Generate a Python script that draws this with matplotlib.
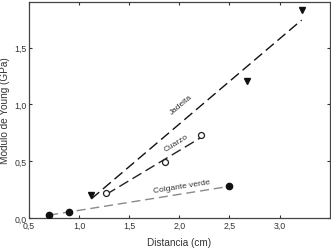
import numpy as np
import matplotlib
matplotlib.use("Agg")
import matplotlib.pyplot as plt

plt.rcParams["font.family"] = ["Liberation Sans", "DejaVu Sans"]

# data
jadeita_x = [1.12, 2.67, 3.22]
jadeita_y = [0.20, 1.21, 1.83]
cuarzo_x = [1.27, 1.86, 2.22]
cuarzo_y = [0.22, 0.49, 0.73]
colgante_x = [0.70, 0.90, 2.50]
colgante_y = [0.03, 0.05, 0.28]

x_ticks = [0.5, 1.0, 1.5, 2.0, 2.5, 3.0]
y_ticks = [0.0, 0.5, 1.0, 1.5]

TXT = "#333333"

fig = plt.figure(figsize=(3.31, 2.53), dpi=100)
ax = fig.add_axes([0.088, 0.134, 0.908, 0.854])


def fit_line(xs, ys, color, dashes):
    k, b = np.polyfit(xs, ys, 1)
    xx = np.array([min(xs), max(xs)])
    ax.plot(xx, k * xx + b, color=color, lw=1.0, dashes=dashes, zorder=2)


fit_line(jadeita_x, jadeita_y, "#111111", (7.5, 3.5))
fit_line(cuarzo_x, cuarzo_y, "#222222", (7.5, 3.5))
fit_line(colgante_x, colgante_y, "#8a8a8a", (6.5, 3.5))

ax.plot(jadeita_x, jadeita_y, "v", color="#111111", ms=4.8, ls="none", zorder=3)
ax.plot(cuarzo_x, cuarzo_y, "o", mfc="white", mec="#222222", mew=0.9, ms=4.3,
        ls="none", zorder=3)
ax.plot(colgante_x, colgante_y, "o", color="#111111", ms=4.5, ls="none", zorder=3)

ax.text(2.02, 1.0, "Jadeita", rotation=40, fontsize=6, color=TXT,
        ha="center", va="center")
ax.text(1.97, 0.665, "Cuarzo", rotation=32, fontsize=6, color=TXT,
        ha="center", va="center")
ax.text(2.02, 0.285, "Colgante verde", rotation=9, fontsize=6, color=TXT,
        ha="center", va="center")

ax.set_xlim(0.5, 3.5)
ax.set_ylim(0.0, 1.9)
ax.set_xticks(x_ticks)
ax.set_yticks(y_ticks)
ax.set_xticklabels([f"{v:.1f}".replace(".", ",") for v in x_ticks])
ax.set_yticklabels([f"{v:.1f}".replace(".", ",") for v in y_ticks])
ax.tick_params(direction="in", length=2.5, width=0.8, labelsize=6.3,
               colors=TXT, top=True, right=True, labeltop=False, labelright=False,
               pad=2)
for spine in ax.spines.values():
    spine.set_color("#444444")
    spine.set_linewidth(0.9)

ax.set_xlabel("Distancia (cm)", fontsize=7.2, color=TXT, labelpad=5)
ax.set_ylabel("Módulo de Young (GPa)", fontsize=7.2, color=TXT, labelpad=3)

fig.savefig("out.png", dpi=100)
